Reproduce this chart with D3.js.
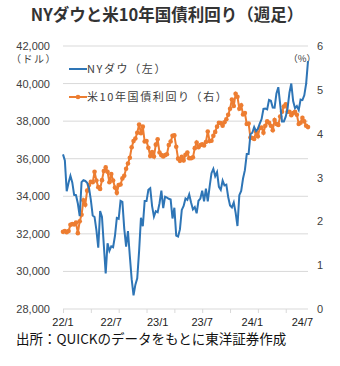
<!DOCTYPE html>
<html><head><meta charset="utf-8">
<script src="https://cdn.jsdelivr.net/npm/d3@7"></script>
<style>
html,body{margin:0;padding:0;background:#fff;}
svg{display:block;font-family:"Noto Sans CJK JP","Noto Sans",sans-serif;}
</style></head>
<body><svg id="c" width="340" height="366"></svg>
<script>
// Weekly data, Jan 2022 – Jul 2024
const dow2022 = [36231,35911,34265,34725,35089,34738,34079,34058,33614,32944,34754,34861,34818,34721,34451,33811,32977,32899,32197,31262,33213,32899,31393,29888,31501,31097,31338,31288,31899,32845,32803,33761,33706,32283,31318,32151,30822,29590,28726,29297,29635,31083,32861,32403,33748,33746,34347,34430,33477,32920,33204,33147];
const dow2023 = [33631,34303,33375,33978,33926,33869,33827,32817,33391,31910,31862,32238,33274,33485,33886,33809,34098,33674,33301,33427,33093,33763,33877,34299,33727,34408,33735,34509,35228,35459,35066,35281,34500,34346,34838,34577,34618,33964,33508,33407,33670,33127,32418,34061,34283,34947,35390,36246,36248,37306,37385,37690];
const dow2024 = [37466,37593,37863,38109,38654,38671,38628,39131,39087,38722,38715,39475,39807,38904,37983,37986,38239,38676,39513,40004,39070,38686,38799,38589,39150,39119,39376,40001,41198];
const yld2022 = [1.76,1.78,1.75,1.78,1.92,1.94,1.93,1.97,1.73,2.00,2.15,2.48,2.38,2.70,2.83,2.90,2.89,3.13,2.93,2.78,2.74,2.94,3.15,3.23,3.13,2.89,3.08,2.93,2.77,2.65,2.83,2.84,2.98,3.04,3.20,3.32,3.45,3.69,3.83,3.89,4.02,4.21,4.01,4.16,3.82,3.83,3.68,3.49,3.58,3.48,3.75,3.87];
const yld2023 = [3.57,3.51,3.48,3.51,3.53,3.74,3.82,3.95,3.96,3.70,3.43,3.38,3.47,3.39,3.52,3.57,3.44,3.44,3.46,3.67,3.80,3.69,3.74,3.76,3.73,3.81,4.05,3.83,3.84,3.95,4.04,4.16,4.25,4.24,4.18,4.26,4.33,4.43,4.57,4.78,4.63,4.91,4.84,4.57,4.65,4.44,4.47,4.22,4.23,3.91,3.90,3.88];
const yld2024 = [4.05,3.94,4.13,4.14,4.02,4.18,4.28,4.25,4.18,4.08,4.31,4.22,4.20,4.39,4.50,4.62,4.67,4.50,4.50,4.42,4.47,4.50,4.43,4.22,4.25,4.36,4.28,4.18,4.15];
const xLabels = ["22/1","22/7","23/1","23/7","24/1","24/7"];
const xLabelIdx = [0,26,51,75,102,129];
const leftTicks = [28000,30000,32000,34000,36000,38000,40000,42000];
const rightTicks = [0,1,2,3,4,5,6];

const dow = dow2022.concat(dow2023, dow2024);
const yld = yld2022.concat(yld2023, yld2024);
const n = dow.length;

const svg = d3.select("#c");
const L = 63, R = 308, T = 46, B = 309;
const x = d3.scaleLinear().domain([0, n - 1]).range([L, R]);
const yL = d3.scaleLinear().domain([28000, 42000]).range([B, T]);
const yR = d3.scaleLinear().domain([0, 6]).range([B, T]);
const txt = "#404040";

// title
svg.append("text").attr("x", 167).attr("y", 21).attr("text-anchor", "middle")
  .attr("font-size", 16.5).attr("font-weight", "bold").attr("fill", "#333")
  .text("NYダウと米10年国債利回り（週足）");

// gridlines
svg.append("g").selectAll("line").data(leftTicks.filter(d => d > 28000)).join("line")
  .attr("x1", L).attr("x2", R).attr("y1", d => yL(d)).attr("y2", d => yL(d))
  .attr("stroke", "#d9d9d9").attr("stroke-width", 1);

// bottom axis
const ax = svg.append("g").attr("transform", `translate(0,${B})`);
ax.call(d3.axisBottom(x).tickValues(d3.range(0, n, 15)).tickSize(4).tickFormat(""));
ax.select(".domain").attr("stroke", "#d9d9d9").attr("d", `M${L},0H${R}`);
ax.selectAll(".tick line").attr("stroke", "#d9d9d9");
svg.append("g").selectAll("text").data(xLabels).join("text")
  .attr("x", (d, i) => x(xLabelIdx[i])).attr("y", B + 17).attr("text-anchor", "middle")
  .attr("font-size", 11).attr("fill", "#222").attr("font-family", "Liberation Sans, Arial, sans-serif")
  .text(d => d);

// left axis labels
const fmt = d3.format(",");
svg.append("g").selectAll("text").data(leftTicks).join("text")
  .attr("x", 50).attr("y", d => yL(d) + 4).attr("text-anchor", "end")
  .attr("font-size", 11).attr("fill", txt).attr("font-family", "Liberation Sans, Arial, sans-serif")
  .text(d => fmt(d));
svg.append("text").attr("x", 34).attr("y", 63).attr("text-anchor", "middle")
  .attr("font-size", 10).attr("fill", txt).attr("letter-spacing", 1.5).text("（ドル）");

// right axis labels
svg.append("g").selectAll("text").data(rightTicks).join("text")
  .attr("x", 317).attr("y", d => yR(d) + 4).attr("text-anchor", "start")
  .attr("font-size", 11).attr("fill", txt).attr("font-family", "Liberation Sans, Arial, sans-serif")
  .text(d => d);
svg.append("text").attr("x", 316).attr("y", 62).attr("text-anchor", "end")
  .attr("font-size", 9.5).attr("fill", txt).text("（%）");

// lines
const blue = "#2E75B6", orange = "#ED7D31";
svg.append("path").datum(yld)
  .attr("d", d3.line().x((d, i) => x(i)).y(d => yR(d)))
  .attr("fill", "none").attr("stroke", orange).attr("stroke-width", 2);
svg.append("g").selectAll("circle").data(yld).join("circle")
  .attr("cx", (d, i) => x(i)).attr("cy", d => yR(d)).attr("r", 2.3).attr("fill", orange);
svg.append("path").datum(dow)
  .attr("d", d3.line().x((d, i) => x(i)).y(d => yL(d)))
  .attr("fill", "none").attr("stroke", blue).attr("stroke-width", 2);

// legend
const lg = svg.append("g").attr("font-size", 11).attr("fill", txt);
lg.append("line").attr("x1", 69).attr("x2", 87).attr("y1", 69).attr("y2", 69).attr("stroke", blue).attr("stroke-width", 2);
lg.append("text").attr("x", 87).attr("y", 73).attr("letter-spacing", 1.6).text("NYダウ（左）");
lg.append("line").attr("x1", 69).attr("x2", 87).attr("y1", 97).attr("y2", 97).attr("stroke", orange).attr("stroke-width", 2);
lg.append("circle").attr("cx", 78).attr("cy", 97).attr("r", 2.3).attr("fill", orange);
lg.append("text").attr("x", 87).attr("y", 101).attr("letter-spacing", 1.6).text("米10年国債利回り（右）");

// source
svg.append("text").attr("x", 16).attr("y", 344).attr("font-size", 13.5).attr("fill", "#111")
  .text("出所：QUICKのデータをもとに東洋証券作成");
</script></body></html>
